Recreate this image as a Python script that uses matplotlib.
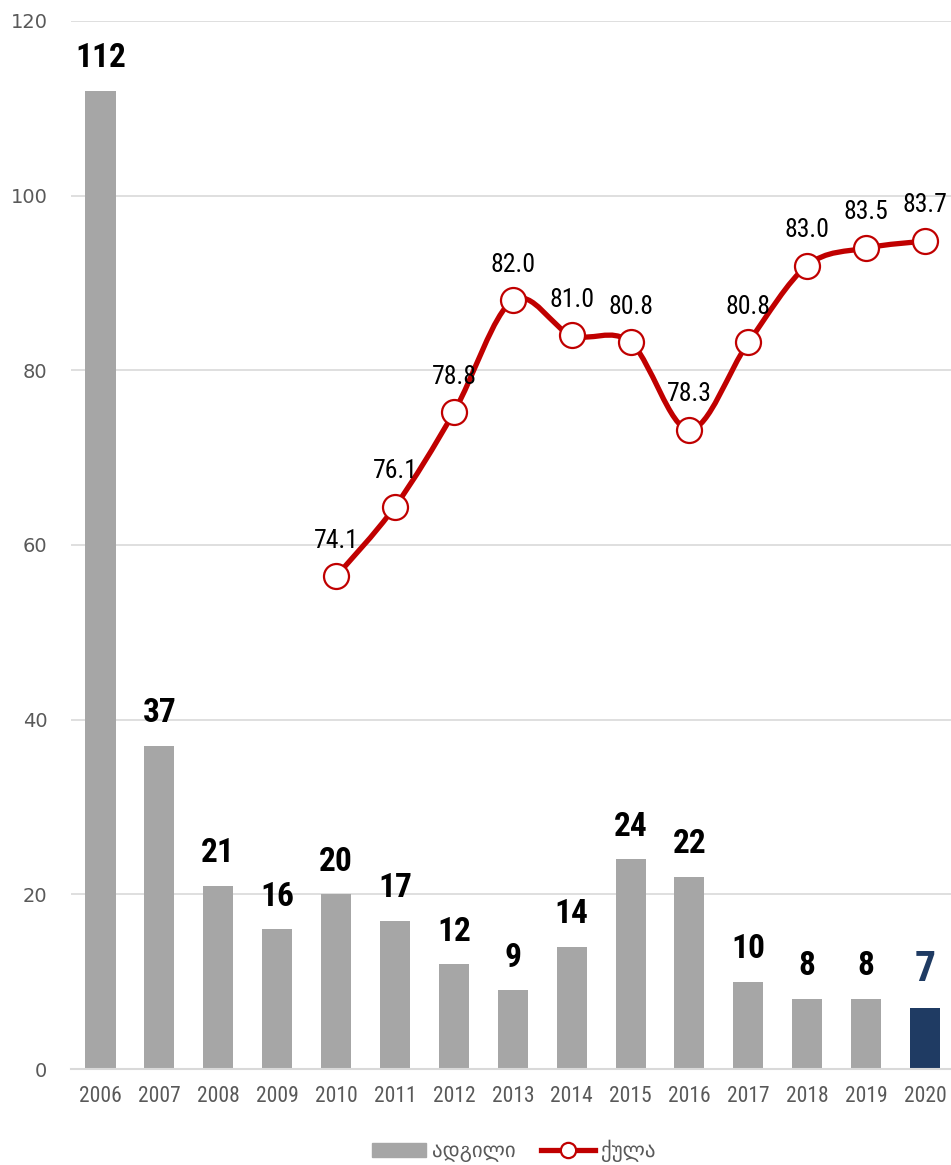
import matplotlib.pyplot as plt
import numpy as np
from matplotlib.path import Path
from matplotlib.patches import PathPatch
from matplotlib.lines import Line2D
import matplotlib.patches as mpatches
from matplotlib import font_manager

years = ["2006", "2007", "2008", "2009", "2010", "2011", "2012", "2013",
         "2014", "2015", "2016", "2017", "2018", "2019", "2020"]
places = [112, 37, 21, 16, 20, 17, 12, 9, 14, 24, 22, 10, 8, 8, 7]
score_years = ["2010", "2011", "2012", "2013", "2014", "2015", "2016",
               "2017", "2018", "2019", "2020"]
scores = [74.1, 76.1, 78.8, 82.0, 81.0, 80.8, 78.3, 80.8, 83.0, 83.5, 83.7]

names = {f.name for f in font_manager.fontManager.ttflist}
narrow = [n for n in ["Roboto Condensed", "Liberation Sans Narrow",
                      "DejaVu Sans Condensed", "Roboto"] if n in names]
narrow.append("DejaVu Sans")
plt.rcParams['font.family'] = ["DejaVu Sans"]

gray = "#a6a6a6"
navy = "#1f3b63"
red = "#c00000"
tick_col = "#595959"

fig = plt.figure(figsize=(9.51, 11.65), dpi=100)
ax = fig.add_axes([0.0747, 0.0824, 0.929, 0.8996])
x = np.arange(len(years))
colors = [gray] * (len(years) - 1) + [navy]
ax.bar(x, places, width=0.51, color=colors, zorder=2)
ax.set_xlim(-0.5, len(years) - 0.5)
ax.set_ylim(0, 120)
ax.set_yticks(range(0, 121, 20))
ax.yaxis.grid(True, color="#d9d9d9", linewidth=1.2, zorder=0)
ax.set_axisbelow(True)
for s in ["top", "right", "left"]:
    ax.spines[s].set_visible(False)
ax.spines["bottom"].set_color("#d9d9d9")
ax.spines["bottom"].set_linewidth(1.5)
ax.tick_params(axis="both", length=0)
ax.tick_params(axis="y", labelsize=14, labelcolor=tick_col, pad=17)
ax.set_xticks(x)
ax.set_xticklabels(years, family=narrow, fontsize=15.5, color=tick_col)
ax.tick_params(axis="x", pad=12)

for i, v in enumerate(places):
    last = i == len(places) - 1
    ax.annotate(str(v), (x[i], v), xytext=(0, 12 if not last else 13),
                textcoords="offset points", ha="center", va="bottom",
                family=narrow, fontweight="bold",
                fontsize=30 if last else 24,
                color=navy if last else "black")

# secondary axis for the score line (hidden)
ax2 = ax.twinx()
ax2.set_ylim(60, 90)
ax2.axis("off")
sx = np.array([years.index(y) for y in score_years], dtype=float)
sy = np.array(scores)

# smoothed line drawn as bezier path through the points
pts = np.column_stack([sx, sy])
verts = [pts[0]]
codes = [Path.MOVETO]
for i in range(len(pts) - 1):
    p0 = pts[i - 1] if i > 0 else pts[i]
    p1 = pts[i]
    p2 = pts[i + 1]
    p3 = pts[i + 2] if i + 2 < len(pts) else pts[i + 1]
    c1 = p1 + (p2 - p0) / 6.0
    c2 = p2 - (p3 - p1) / 6.0
    verts += [c1, c2, p2]
    codes += [Path.CURVE4] * 3
ax2.add_patch(PathPatch(Path(verts, codes), facecolor="none", edgecolor=red,
                        linewidth=3.8, zorder=3, capstyle="round"))
ax2.plot(sx, sy, linestyle="none", marker="o", markersize=18,
         markerfacecolor="white", markeredgecolor=red, markeredgewidth=1.6,
         zorder=4)
for xi, v in zip(sx, scores):
    ax2.annotate(f"{v:.1f}", (xi, v), xytext=(0, 17), textcoords="offset points",
                 ha="center", va="bottom", family=narrow, fontsize=18.5,
                 color="black", zorder=5)

handles = [mpatches.Patch(color=gray, label="ადგილი"),
           Line2D([], [], color=red, linewidth=3.8, marker="o", markersize=11,
                  markerfacecolor="white", markeredgecolor=red,
                  markeredgewidth=1.6, label="ქულა")]
fig.legend(handles=handles, loc="center", bbox_to_anchor=(0.54, 0.012),
           ncol=2, frameon=False, fontsize=15, labelcolor=tick_col,
           handlelength=2.6, handletextpad=0.3, columnspacing=1.2)

fig.savefig("out.png", dpi=100)
